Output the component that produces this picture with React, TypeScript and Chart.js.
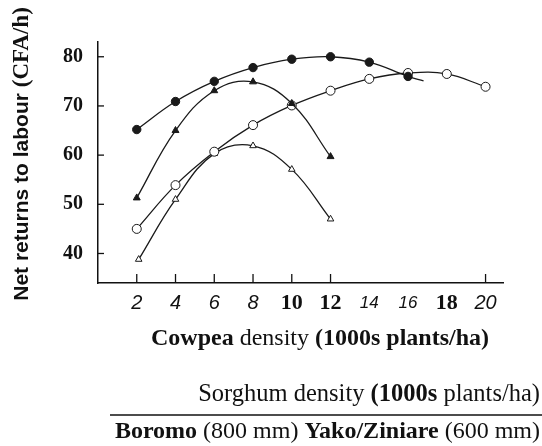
import React, { useEffect, useRef } from "react";
import { Chart, registerables } from "chart.js";

Chart.register(...registerables);

const SERIF = "'Liberation Serif', 'Times New Roman', serif";
const SANS = "'Liberation Sans Narrow', 'Liberation Sans', Arial, sans-serif";
const SANS_BOLD = "'Liberation Sans', Arial, sans-serif";

// Tick values
const xTicks = [2, 4, 6, 8, 10, 12, 14, 16, 18, 20];
const xTicksMarked = [2, 4, 6, 8, 10, 12, 20];
const xTicksBoldSerif = [10, 12, 18];
const xTicksSmall = [14, 16];
const yTicks = [40, 50, 60, 70, 80];

// Series (cowpea density in 1000s plants/ha -> net returns CFA/h)
const filledCircleX = [2, 4, 6, 8, 10, 12, 14, 16, 16.8];
const filledCircleY = [65.2, 70.9, 75.0, 77.8, 79.5, 80.0, 78.9, 76.0, 75.1];
const filledCircleMarker = [1, 1, 1, 1, 1, 1, 1, 1, 0];

const filledTriangleX = [2, 4, 6, 8, 10, 12];
const filledTriangleY = [51.3, 65.0, 73.1, 74.9, 70.5, 59.7];

const openCircleX = [2, 4, 6, 8, 10, 12, 14, 16, 18, 20];
const openCircleY = [45.0, 53.9, 60.7, 66.1, 70.1, 73.1, 75.5, 76.7, 76.5, 73.9];

const openTriangleX = [2.1, 4, 6, 8, 10, 12];
const openTriangleY = [38.8, 51.0, 60.3, 61.9, 57.1, 47.0];

const yTitleSegments = [
  { text: "Net returns to labour ", font: `bold 21px ${SANS_BOLD}` },
  { text: "(CFA/h)", font: `bold 23px ${SERIF}` },
];
const xTitleSegments = [
  { text: "Cowpea", font: `bold 24px ${SERIF}` },
  { text: " density ", font: `24px ${SERIF}` },
  { text: "(1000s plants/ha)", font: `bold 24px ${SERIF}` },
];
const sorghumSegments = [
  { text: "Sorghum density ", font: `24.5px ${SERIF}` },
  { text: "(1000s", font: `bold 24.5px ${SERIF}` },
  { text: " plants/ha)", font: `24.5px ${SERIF}` },
];
const siteSegments = [
  { text: "Boromo", font: `bold 24px ${SERIF}` },
  { text: " (800 mm) ", font: `24px ${SERIF}` },
  { text: "Yako/Ziniare", font: `bold 24px ${SERIF}` },
  { text: " (600 mm)", font: `24px ${SERIF}` },
];

type Seg = { text: string; font: string };

function drawSegments(ctx: CanvasRenderingContext2D, segs: Seg[], x: number, y: number, align: "left" | "right" | "center") {
  let total = 0;
  for (const s of segs) {
    ctx.font = s.font;
    total += ctx.measureText(s.text).width;
  }
  let cx = align === "left" ? x : align === "right" ? x - total : x - total / 2;
  ctx.textAlign = "left";
  for (const s of segs) {
    ctx.font = s.font;
    ctx.fillText(s.text, cx, y);
    cx += ctx.measureText(s.text).width;
  }
}

const toPoints = (xs: number[], ys: number[]) => xs.map((x, i) => ({ x, y: ys[i] }));

const annotationsPlugin = {
  id: "figureText",
  afterDraw(chart: any) {
    const ctx: CanvasRenderingContext2D = chart.ctx;
    const xs = chart.scales.x;
    const ys = chart.scales.y;
    const area = chart.chartArea;
    ctx.save();
    ctx.strokeStyle = "#111";
    ctx.fillStyle = "#111";
    ctx.lineWidth = 1.3;
    // inward tick marks
    for (const v of yTicks) {
      const py = ys.getPixelForValue(v);
      ctx.beginPath();
      ctx.moveTo(area.left, py);
      ctx.lineTo(area.left + 6, py);
      ctx.stroke();
    }
    for (const v of xTicksMarked) {
      const px = xs.getPixelForValue(v);
      ctx.beginPath();
      ctx.moveTo(px, area.bottom);
      ctx.lineTo(px, area.bottom - 9);
      ctx.stroke();
    }
    // y title
    ctx.save();
    ctx.translate(22, 154);
    ctx.rotate(-Math.PI / 2);
    ctx.textBaseline = "middle";
    drawSegments(ctx, yTitleSegments, 0, 0, "center");
    ctx.restore();
    ctx.textBaseline = "alphabetic";
    drawSegments(ctx, xTitleSegments, 320, 345, "center");
    drawSegments(ctx, sorghumSegments, 540, 401, "right");
    ctx.lineWidth = 1.5;
    ctx.beginPath();
    ctx.moveTo(110, 415);
    ctx.lineTo(542, 415);
    ctx.stroke();
    drawSegments(ctx, siteSegments, 540, 438, "right");
    ctx.restore();
  },
};

export default function App() {
  const ref = useRef<HTMLCanvasElement>(null);
  useEffect(() => {
    document.body.style.margin = "0";
    const lineColor = "#1a1a1a";
    const common = {
      showLine: true,
      borderColor: lineColor,
      borderWidth: 1.3,
      tension: 0.4,
      clip: false as any,
      pointBorderColor: lineColor,
      pointBorderWidth: 1,
    };
    const chart = new Chart(ref.current!, {
      type: "line",
      data: {
        datasets: [
          {
            ...common,
            label: "Filled circles",
            data: toPoints(filledCircleX, filledCircleY),
            pointStyle: "circle",
            pointRadius: filledCircleMarker.map((m) => (m ? 4.2 : 0)),
            pointBackgroundColor: lineColor,
          },
          {
            ...common,
            label: "Filled triangles",
            data: toPoints(filledTriangleX, filledTriangleY),
            pointStyle: "triangle",
            pointRadius: 4,
            pointBackgroundColor: lineColor,
          },
          {
            ...common,
            label: "Open circles",
            data: toPoints(openCircleX, openCircleY),
            pointStyle: "circle",
            pointRadius: 4.5,
            pointBackgroundColor: "#fff",
          },
          {
            ...common,
            label: "Open triangles",
            data: toPoints(openTriangleX, openTriangleY),
            pointStyle: "triangle",
            pointRadius: 3.8,
            pointBackgroundColor: "#fff",
          },
        ],
      },
      options: {
        animation: false,
        responsive: false,
        events: [],
        layout: { padding: { left: 0, right: 39, top: 42, bottom: 0 } },
        plugins: { legend: { display: false }, tooltip: { enabled: false } },
        scales: {
          x: {
            type: "linear",
            min: 0,
            max: 20.9,
            grid: { display: false, drawTicks: false },
            border: { display: true, color: "#111", width: 1.5 },
            afterBuildTicks: (scale: any) => {
              scale.ticks = xTicks.map((v) => ({ value: v }));
            },
            afterFit: (scale: any) => {
              scale.height = 163;
            },
            ticks: {
              padding: 7,
              maxRotation: 0,
              autoSkip: false,
              color: "#111",
              callback: (v: any) => String(v),
              font: (ctx: any) => {
                const v = ctx.tick ? ctx.tick.value : 0;
                if (xTicksBoldSerif.includes(v)) return { family: SERIF, size: 22, weight: "bold", lineHeight: "26px" };
                if (xTicksSmall.includes(v)) return { family: SANS, size: 17, style: "italic", lineHeight: "26px" };
                return { family: SANS, size: 20, style: "italic", lineHeight: "26px" };
              },
            },
          },
          y: {
            type: "linear",
            min: 34,
            max: 83,
            grid: { display: false, drawTicks: false },
            border: { display: true, color: "#111", width: 1.5 },
            afterBuildTicks: (scale: any) => {
              scale.ticks = yTicks.map((v) => ({ value: v }));
            },
            afterFit: (scale: any) => {
              scale.width = 98;
            },
            ticks: {
              padding: 15,
              color: "#111",
              font: { family: SERIF, size: 20, weight: "bold" },
            },
          },
        },
      },
      plugins: [annotationsPlugin],
    } as any);
    return () => chart.destroy();
  }, []);
  return (
    <div style={{ width: 542, height: 446, position: "relative", background: "#fff" }}>
      <canvas ref={ref} width={542} height={446} style={{ display: "block" }} />
    </div>
  );
}
